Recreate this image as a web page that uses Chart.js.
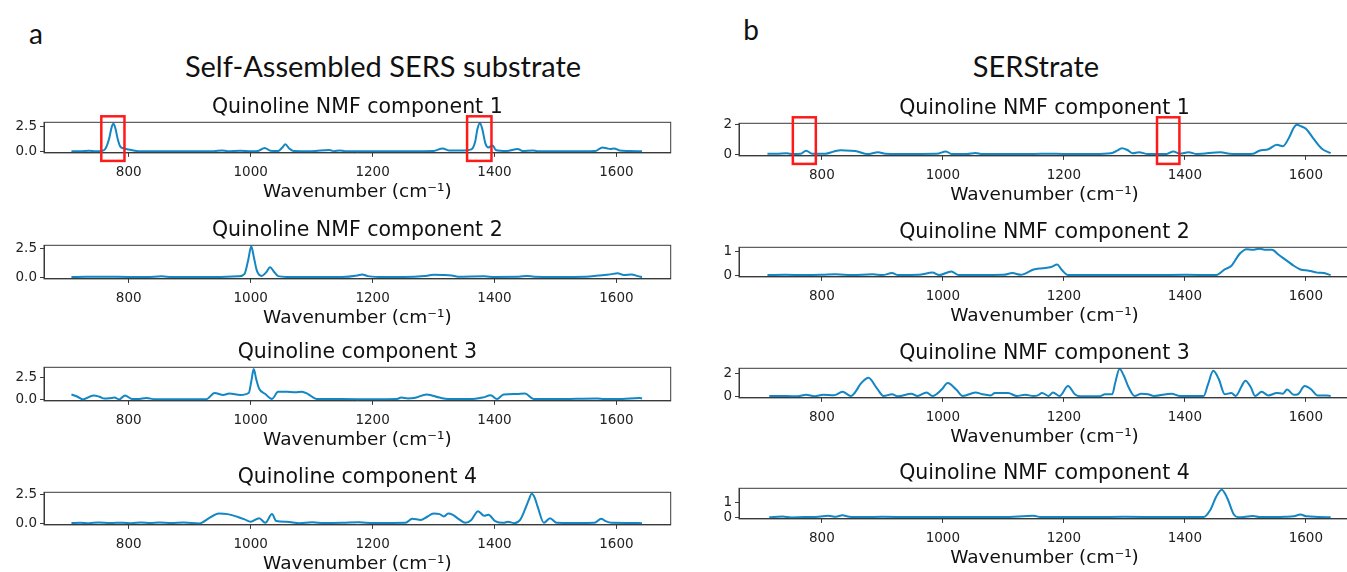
<!DOCTYPE html>
<html>
<head>
<meta charset="utf-8">
<script src="https://cdn.jsdelivr.net/npm/chart.js@4.4.1/dist/chart.umd.min.js"></script>
<style>
  html, body { margin: 0; padding: 0; background: #fff; overflow: hidden; width: 1347px; height: 572px; }
  canvas { position: absolute; }
  .head { position: absolute; font-family: Lato, "Open Sans", sans-serif; color: #111; white-space: nowrap; line-height: 1; transform: translate(-50%, -50%); }
</style>
</head>
<body>
<div class="head" style="left:36px; top:33px; font-size:28px;">a</div>
<div class="head" style="left:383px; top:65px; font-size:29px;">Self-Assembled SERS substrate</div>
<div class="head" style="left:751px; top:29px; font-size:28px;">b</div>
<div class="head" style="left:1036px; top:65px; font-size:29px;">SERStrate</div>
<script>
// x ticks shared by every panel
const xTicks = [800, 1000, 1200, 1400, 1600];
const xLabel = 'Wavenumber (cm\u207B\u00B9)';

// panel a, component 1
const wnA1 = [706,720,735,745,755,762,768,772,775,778,782,786,792,800,808,815,850,900,940,953,962,983,1000,1012,1023,1032,1045,1052,1057,1063,1070,1100,1129,1137,1146,1155,1200,1260,1300,1315,1325,1350,1362,1368,1372,1376,1380,1385,1390,1397,1402,1420,1438,1446,1463,1470,1520,1565,1577,1585,1590,1596,1605,1620,1642];
const intA1 = [0.02,0.02,0.08,0.03,0.05,0.3,1.3,2.4,2.72,2.3,1.2,0.5,0.3,0.2,0.1,0.03,0.02,0.02,0.03,0.1,0.03,0.08,0.03,0.05,0.35,0.08,0.05,0.4,0.7,0.3,0.05,0.03,0.15,0.03,0.1,0.03,0.02,0.03,0.05,0.3,0.1,0.1,0.2,0.9,2.2,2.8,2.2,0.8,0.4,0.6,0.15,0.05,0.25,0.05,0.1,0.03,0.02,0.05,0.4,0.3,0.25,0.3,0.1,0.05,0.02];

// panel a, component 2
const wnA2 = [706,730,760,800,830,854,870,920,960,980,990,996,1001,1005,1010,1018,1025,1032,1038,1045,1060,1100,1150,1175,1183,1192,1210,1250,1285,1300,1315,1330,1340,1383,1400,1440,1453,1465,1500,1550,1570,1590,1602,1612,1625,1635,1642];
const intA2 = [0.02,0.05,0.04,0.03,0.02,0.08,0.03,0.02,0.04,0.08,0.3,1.5,2.67,1.8,0.6,0.12,0.4,0.87,0.5,0.1,0.03,0.02,0.02,0.15,0.25,0.1,0.03,0.02,0.1,0.22,0.2,0.15,0.05,0.08,0.03,0.04,0.12,0.05,0.03,0.05,0.15,0.25,0.35,0.2,0.25,0.1,0.02];

// panel a, component 3
const wnA3 = [706,716,725,742,752,760,768,777,784,794,805,815,829,843,870,927,941,955,965,983,997,1001,1005,1009,1014,1024,1035,1045,1059,1073,1084,1094,1108,1150,1200,1240,1247,1258,1268,1289,1310,1324,1360,1380,1394,1404,1415,1436,1450,1464,1500,1568,1580,1610,1638,1642];
const intA3 = [0.55,0.3,0.0,0.43,0.3,0.1,0.12,0.2,0.0,0.43,0.05,0.03,0.15,0.02,0.02,0.02,0.72,0.5,0.65,0.5,0.75,2.0,3.4,2.3,1.2,0.6,0.05,0.85,0.85,0.8,0.85,0.6,0.05,0.03,0.02,0.05,0.2,0.1,0.15,0.55,0.2,0.05,0.03,0.2,0.45,0.05,0.55,0.6,0.65,0.05,0.03,0.1,0.03,0.05,0.15,0.1];

// panel a, component 4
const wnA4 = [706,720,735,750,770,790,805,820,835,850,870,890,916,933,948,962,979,990,1000,1014,1024,1035,1042,1059,1080,1101,1120,1150,1178,1200,1254,1265,1279,1289,1300,1310,1317,1324,1331,1342,1352,1362,1373,1383,1390,1401,1415,1422,1432,1442,1450,1456,1461,1466,1471,1481,1491,1502,1530,1564,1575,1582,1592,1620,1642];
const intA4 = [0.03,0.06,0.02,0.07,0.03,0.06,0.02,0.07,0.03,0.08,0.03,0.07,0.0,0.5,0.85,0.8,0.55,0.35,0.15,0.45,0.05,0.8,0.2,0.15,0.02,0.1,0.03,0.05,0.1,0.03,0.05,0.4,0.3,0.55,0.85,0.8,0.6,0.85,0.75,0.35,0.05,0.3,1.05,0.65,0.75,0.2,0.05,0.15,0.02,0.3,1.2,2.0,2.55,2.2,1.4,0.05,0.45,0.05,0.03,0.05,0.4,0.2,0.05,0.04,0.02];

// panel b, component 1
const wnB1 = [710,725,742,752,765,774,784,795,806,820,831,848,859,875,893,905,950,990,1005,1015,1040,1054,1065,1100,1150,1175,1200,1250,1278,1288,1296,1305,1314,1324,1339,1370,1381,1392,1406,1420,1459,1474,1500,1513,1523,1538,1552,1562,1573,1580,1585,1592,1601,1612,1626,1641];
const intB1 = [0.05,0.04,0.08,0.02,0.05,0.25,0.05,0.04,0.05,0.2,0.28,0.25,0.2,0.02,0.15,0.05,0.03,0.04,0.2,0.02,0.03,0.1,0.02,0.03,0.03,0.05,0.03,0.03,0.08,0.25,0.42,0.3,0.08,0.15,0.02,0.03,0.2,0.05,0.15,0.03,0.15,0.05,0.03,0.05,0.25,0.35,0.65,0.55,1.2,1.8,2.0,1.9,1.7,1.1,0.4,0.08];

// panel b, component 2
const wnB2 = [710,740,770,800,823,850,884,900,916,926,960,983,994,1014,1026,1060,1100,1115,1129,1136,1150,1164,1179,1189,1196,1207,1250,1300,1350,1400,1452,1466,1477,1491,1502,1512,1523,1534,1544,1555,1569,1580,1591,1605,1619,1630,1641];
const intB2 = [0.02,0.03,0.02,0.03,0.05,0.02,0.05,0.02,0.1,0.02,0.03,0.12,0.02,0.17,0.02,0.02,0.03,0.1,0.03,0.08,0.25,0.3,0.35,0.45,0.25,0.02,0.02,0.02,0.02,0.03,0.02,0.25,0.4,0.9,1.08,1.05,1.1,1.05,1.05,0.85,0.6,0.4,0.25,0.2,0.12,0.1,0.02];

// panel b, component 3
const wnB3 = [713,742,760,774,788,802,820,834,848,866,877,891,902,916,926,948,958,973,983,998,1008,1022,1033,1054,1065,1079,1086,1108,1122,1136,1150,1157,1164,1175,1182,1193,1207,1218,1228,1260,1268,1280,1285,1292,1299,1307,1317,1328,1339,1349,1378,1392,1431,1438,1447,1456,1466,1477,1484,1495,1500,1509,1516,1527,1538,1552,1562,1569,1580,1587,1598,1609,1619,1634,1641];
const intB3 = [0.05,0.05,0.02,0.15,0.02,0.15,0.12,0.4,0.05,1.2,1.6,0.7,0.05,0.2,0.02,0.25,0.05,0.35,0.05,0.6,1.15,0.6,0.05,0.35,0.2,0.1,0.3,0.3,0.05,0.15,0.05,0.1,0.3,0.05,0.35,0.05,0.9,0.2,0.02,0.03,0.2,0.2,1.2,2.35,1.8,0.8,0.05,0.25,0.2,0.05,0.25,0.05,0.05,1.0,2.2,1.5,0.2,0.3,0.05,1.0,1.35,0.8,0.05,0.4,0.1,0.3,0.25,0.6,0.15,0.2,0.9,0.6,0.1,0.1,0.05];

// panel b, component 4
const wnB4 = [713,735,749,770,795,810,823,834,845,870,900,950,1000,1050,1100,1150,1161,1200,1250,1300,1350,1400,1431,1442,1452,1461,1470,1481,1488,1513,1523,1566,1580,1591,1601,1620,1641];
const intB4 = [0.02,0.07,0.01,0.03,0.05,0.12,0.05,0.15,0.05,0.03,0.05,0.03,0.04,0.03,0.03,0.12,0.03,0.04,0.03,0.05,0.04,0.03,0.03,0.5,1.4,1.85,1.3,0.2,0.02,0.1,0.03,0.05,0.08,0.2,0.08,0.04,0.02];

// highlighted bands (wavenumber ranges) in component 1 of each panel
const bandsA1 = [[755, 793], [1355, 1395]];
const bandsB1 = [[752, 790], [1354, 1391]];

const LINE = '#1386c3';
const AXIS = '#3a3a3a';
Chart.defaults.font.family = "'DejaVu Sans', sans-serif";
Chart.defaults.color = '#222';

// col: 0 = left, 1 = right ; box = plot-area top/bottom in px
const panels = [
  {col: 0, box: [122.3, 153.3], title: 'Quinoline NMF component 1', wn: wnA1, y: intA1, yr: [-0.14, 2.87], yt: [0, 2.5], dec: 1, bands: bandsA1},
  {col: 0, box: [245, 278.3],   title: 'Quinoline NMF component 2', wn: wnA2, y: intA2, yr: [-0.14, 2.76], yt: [0, 2.5], dec: 1},
  {col: 0, box: [367, 401],     title: 'Quinoline component 3',     wn: wnA3, y: intA3, yr: [-0.17, 3.6],  yt: [0, 2.5], dec: 1},
  {col: 0, box: [492, 525],     title: 'Quinoline component 4',     wn: wnA4, y: intA4, yr: [-0.13, 2.68], yt: [0, 2.5], dec: 1},
  {col: 1, box: [123, 155.7],   title: 'Quinoline NMF component 1', wn: wnB1, y: intB1, yr: [-0.1, 2.1],   yt: [0, 2],   dec: 0, bands: bandsB1},
  {col: 1, box: [247, 277],     title: 'Quinoline NMF component 2', wn: wnB2, y: intB2, yr: [-0.055, 1.155], yt: [0, 1], dec: 0},
  {col: 1, box: [368, 398],     title: 'Quinoline NMF component 3', wn: wnB3, y: intB3, yr: [-0.115, 2.415], yt: [0, 2], dec: 0},
  {col: 1, box: [488, 519],     title: 'Quinoline NMF component 4', wn: wnB4, y: intB4, yr: [-0.09, 1.94], yt: [0, 1],   dec: 0}
];

const cols = [
  {canvasLeft: 0,   canvasW: 680, boxLeft: 44,  boxRight: 670.7, xr: [661, 1689]},
  {canvasLeft: 690, canvasW: 670, boxLeft: 739, boxRight: 1350,  xr: [663, 1673]}
];

const TITLE_SIZE = 20.5, TICK_SIZE = 13.5, LABEL_SIZE = 18.5;

const framePlugin = {
  id: 'frame',
  afterDraw(chart) {
    const a = chart.chartArea, ctx = chart.ctx;
    ctx.save();
    ctx.strokeStyle = AXIS;
    ctx.lineWidth = 1;
    ctx.strokeRect(a.left, a.top, a.right - a.left, a.bottom - a.top);
    const bands = chart.options.plugins.frame.bands || [];
    ctx.strokeStyle = '#ff1a1a';
    ctx.lineWidth = 2.5;
    bands.forEach(b => {
      const x0 = chart.scales.x.getPixelForValue(b[0]);
      const x1 = chart.scales.x.getPixelForValue(b[1]);
      ctx.strokeRect(x0, a.top - 6, x1 - x0, a.bottom - a.top + 14);
    });
    ctx.restore();
  }
};

panels.forEach(p => {
  const c = cols[p.col];
  const boxTop = p.box[0], boxBottom = p.box[1];
  const titleY = boxTop - 15;
  const canvasTop = titleY - TITLE_SIZE * 1.2 / 2;
  const titlePadBottom = boxTop - canvasTop - TITLE_SIZE * 1.2;
  const tickY = boxBottom + 20;
  const tickPad = tickY - boxBottom - 4 - TICK_SIZE * 1.2 / 2;
  const labelY = boxBottom + 39;
  const axisH = labelY + LABEL_SIZE * 1.2 / 2 - boxBottom;
  const canvasH = boxBottom + axisH - canvasTop;

  const cv = document.createElement('canvas');
  cv.width = c.canvasW;
  cv.height = Math.round(canvasH);
  cv.style.left = c.canvasLeft + 'px';
  cv.style.top = canvasTop + 'px';
  document.body.appendChild(cv);

  new Chart(cv, {
    type: 'line',
    data: {
      datasets: [{
        data: p.wn.map((x, i) => ({x: x, y: p.y[i]})),
        borderColor: LINE,
        borderWidth: 2,
        pointRadius: 0,
        fill: false,
        cubicInterpolationMode: 'monotone'
      }]
    },
    options: {
      responsive: false,
      animation: false,
      events: [],
      layout: {autoPadding: false, padding: {left: 0, top: 0, bottom: 0, right: c.canvasLeft + c.canvasW - c.boxRight}},
      plugins: {
        legend: {display: false},
        tooltip: {enabled: false},
        title: {display: true, text: p.title, fullSize: false, color: '#111',
          font: {size: TITLE_SIZE, weight: 'normal'}, padding: {top: 0, bottom: titlePadBottom}},
        frame: {bands: p.bands}
      },
      scales: {
        x: {
          type: 'linear', min: c.xr[0], max: c.xr[1],
          afterBuildTicks: s => { s.ticks = xTicks.map(v => ({value: v})); },
          afterFit: s => { s.height = axisH; },
          ticks: {font: {size: TICK_SIZE}, color: '#222', padding: tickPad, maxRotation: 0, autoSkip: false,
            callback: v => String(v)},
          grid: {display: true, drawOnChartArea: false, drawTicks: true, tickLength: 4, color: AXIS},
          border: {display: true, color: AXIS, width: 1},
          title: {display: true, text: xLabel, color: '#111', font: {size: LABEL_SIZE}, padding: 0}
        },
        y: {
          min: p.yr[0], max: p.yr[1],
          afterBuildTicks: s => { s.ticks = p.yt.map(v => ({value: v})); },
          afterFit: s => { s.width = c.boxLeft - c.canvasLeft; },
          ticks: {font: {size: TICK_SIZE}, color: '#222', padding: 3, callback: v => v.toFixed(p.dec)},
          grid: {display: true, drawOnChartArea: false, drawTicks: true, tickLength: 4, color: AXIS},
          border: {display: true, color: AXIS, width: 1}
        }
      }
    },
    plugins: [framePlugin]
  });
});
</script>
</body>
</html>
